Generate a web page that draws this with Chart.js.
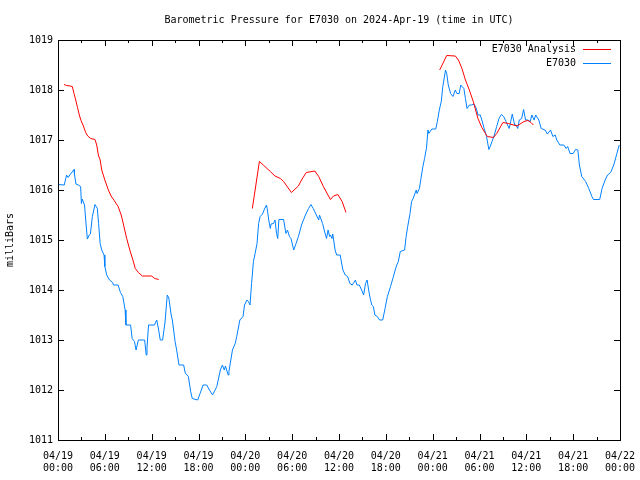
<!DOCTYPE html>
<html>
<head>
<meta charset="utf-8">
<script src="https://cdn.jsdelivr.net/npm/chart.js@4.4.1/dist/chart.umd.min.js"></script>
<style>
  html, body { margin: 0; padding: 0; background: #fff; }
  #wrap { width: 640px; height: 480px; }
</style>
</head>
<body>
<div id="wrap"><canvas id="baro" width="640" height="480"></canvas></div>
<script>
// hours since 2024-04-19 00:00 UTC
var chartTitle = 'Barometric Pressure for E7030 on 2024-Apr-19 (time in UTC)';
var yTitle = 'milliBars';
var xTickLabels = [
    ['04/19', '00:00'], ['04/19', '06:00'], ['04/19', '12:00'], ['04/19', '18:00'],
    ['04/20', '00:00'], ['04/20', '06:00'], ['04/20', '12:00'], ['04/20', '18:00'],
    ['04/21', '00:00'], ['04/21', '06:00'], ['04/21', '12:00'], ['04/21', '18:00'],
    ['04/22', '00:00']
];

var blueHours = [
    0.0, 0.8, 1.1, 1.3, 1.6, 2.05, 2.1, 2.3, 2.6, 2.9, 3.0, 3.1, 3.4, 3.55, 3.76, 4.0, 4.15, 4.4, 4.74, 5.04,
    5.2, 5.4, 5.6, 5.9, 6.0, 6.24, 6.6, 7.0, 7.1, 7.7, 8.0, 8.3, 8.6, 8.7, 9.3, 9.5, 9.8, 10.0, 10.3, 11.1,
    11.3, 11.4, 11.6, 12.35, 12.65, 12.85, 13.1, 13.4, 13.7, 14.0, 14.2, 14.5, 14.65, 15.0, 15.2, 15.5, 16.1, 16.3, 16.7, 17.0,
    17.2, 17.9, 18.2, 18.6, 19.06, 19.4, 19.8, 20.35, 20.8, 21.06, 21.3, 21.45, 21.8, 21.9, 22.35, 22.7, 22.9, 23.3, 23.7, 23.9,
    24.2, 24.4, 24.6, 24.8, 25.04, 25.25, 25.5, 25.7, 25.9, 26.2, 26.4, 26.7, 26.8, 27.0, 27.2, 27.3, 27.6, 27.8, 28.0, 28.15,
    28.3, 28.9, 29.2, 29.4, 29.65, 29.85, 30.2, 30.5, 30.8, 31.2, 31.7, 32.1, 32.4, 32.7, 33.1, 33.4, 33.5, 33.9, 34.1, 34.4,
    34.6, 34.8, 34.9, 35.1, 35.2, 35.5, 35.7, 36.15, 36.5, 36.8, 37.1, 37.4, 37.7, 38.1, 38.3, 38.6, 38.9, 39.15, 39.4, 39.6,
    39.8, 40.0, 40.2, 40.4, 40.6, 40.9, 41.2, 41.6, 41.9, 42.2, 42.6, 42.9, 43.2, 43.4, 43.6, 43.85, 44.4, 44.6, 44.8, 45.1,
    45.3, 45.5, 45.9, 46.0, 46.3, 46.5, 46.75, 46.96, 47.2, 47.4, 47.5, 47.9, 48.4, 48.6, 48.85, 49.1, 49.3, 49.65, 49.8, 50.0,
    50.3, 50.6, 50.9, 51.1, 51.4, 51.6, 52.0, 52.2, 52.4, 52.7, 53.0, 53.3, 53.6, 53.8, 54.1, 54.3, 54.6, 54.9, 55.2, 55.4,
    55.6, 55.9, 56.2, 56.5, 56.8, 57.1, 57.4, 57.6, 57.8, 58.0, 58.2, 58.5, 58.7, 58.9, 59.1, 59.4, 59.65, 59.9, 60.2, 60.5,
    60.7, 61.0, 61.2, 61.6, 61.9, 62.4, 62.7, 63.1, 63.4, 63.7, 63.9, 64.3, 64.8, 65.1, 65.3, 65.6, 66.0, 66.3, 66.6, 66.8,
    67.1, 67.6, 68.0, 68.4, 68.6, 69.4, 69.7, 70.1, 70.4, 70.8, 71.2, 71.6, 71.9
];
var bluePressure = [
    1016.11, 1016.10, 1016.30, 1016.25, 1016.32, 1016.41, 1016.33, 1016.12, 1016.10, 1016.07, 1015.73, 1015.82, 1015.70, 1015.40, 1015.02, 1015.10, 1015.12, 1015.47, 1015.71, 1015.63,
    1015.33, 1014.93, 1014.80, 1014.70, 1014.47, 1014.30, 1014.20, 1014.15, 1014.10, 1014.10, 1013.95, 1013.87, 1013.60, 1013.30, 1013.30, 1013.03, 1012.97, 1012.80, 1013.00, 1013.00,
    1012.70, 1012.84, 1013.30, 1013.30, 1013.40, 1013.24, 1013.00, 1013.00, 1013.34, 1013.90, 1013.84, 1013.50, 1013.40, 1012.97, 1012.80, 1012.50, 1012.50, 1012.34, 1012.27, 1011.97,
    1011.83, 1011.80, 1011.93, 1012.10, 1012.10, 1012.00, 1011.90, 1012.07, 1012.40, 1012.50, 1012.40, 1012.48, 1012.30, 1012.37, 1012.80, 1012.93, 1013.07, 1013.40, 1013.47, 1013.70,
    1013.80, 1013.77, 1013.70, 1014.13, 1014.57, 1014.73, 1014.93, 1015.33, 1015.47, 1015.52, 1015.60, 1015.70, 1015.63, 1015.40, 1015.23, 1015.32, 1015.33, 1015.40, 1015.13, 1015.03,
    1015.41, 1015.41, 1015.13, 1015.20, 1015.07, 1015.03, 1014.80, 1014.93, 1015.07, 1015.30, 1015.50, 1015.63, 1015.71, 1015.63, 1015.50, 1015.40, 1015.50, 1015.33, 1015.20, 1015.03,
    1015.20, 1015.07, 1015.10, 1015.03, 1015.12, 1014.80, 1014.70, 1014.70, 1014.40, 1014.30, 1014.27, 1014.13, 1014.10, 1014.20, 1014.10, 1014.10, 1014.00, 1013.90, 1014.13, 1014.20,
    1014.00, 1013.83, 1013.70, 1013.67, 1013.50, 1013.47, 1013.40, 1013.40, 1013.63, 1013.87, 1014.07, 1014.23, 1014.40, 1014.50, 1014.57, 1014.77, 1014.80, 1015.07, 1015.27, 1015.53,
    1015.77, 1015.83, 1016.00, 1015.93, 1016.03, 1016.23, 1016.47, 1016.63, 1016.83, 1017.20, 1017.13, 1017.22, 1017.22, 1017.37, 1017.60, 1017.77, 1018.07, 1018.40, 1018.33, 1018.10,
    1017.93, 1017.87, 1018.00, 1017.93, 1017.93, 1018.10, 1018.03, 1017.83, 1017.63, 1017.70, 1017.70, 1017.72, 1017.63, 1017.50, 1017.50, 1017.40, 1017.23, 1017.07, 1016.81, 1016.88,
    1016.97, 1017.10, 1017.27, 1017.43, 1017.51, 1017.47, 1017.37, 1017.30, 1017.23, 1017.37, 1017.52, 1017.30, 1017.30, 1017.23, 1017.40, 1017.43, 1017.61, 1017.40, 1017.40, 1017.37,
    1017.50, 1017.40, 1017.50, 1017.40, 1017.23, 1017.20, 1017.12, 1017.20, 1017.07, 1017.10, 1017.00, 1016.90, 1016.90, 1016.83, 1016.87, 1016.73, 1016.73, 1016.81, 1016.80, 1016.50,
    1016.27, 1016.17, 1016.03, 1015.87, 1015.81, 1015.81, 1016.03, 1016.20, 1016.30, 1016.35, 1016.50, 1016.73, 1016.90
];

// analysis series, null = gap between runs
var redHours = [
    0.77, 1.1, 1.54, 1.83, 2.05, 2.27, 2.5, 2.73, 2.95, 3.25, 3.55, 3.8, 4.2, 4.74, 4.96, 5.17, 5.4, 5.6, 6.0, 6.45,
    6.8, 7.2, 7.7, 8.1, 8.4, 8.8, 9.2, 9.6, 9.9, 10.3, 10.8, 12.0, 12.4, 12.9,
    18.0,
    24.9, 25.8, 26.3, 27.2, 27.8, 28.5, 28.9, 29.9, 30.8, 31.2, 31.8, 32.9, 33.4, 34.0, 34.9, 35.3, 35.85, 36.4, 36.9,
    42.0,
    48.9, 49.8, 50.9, 51.3, 51.75, 52.2, 52.7, 53.2, 53.8, 54.3, 55.0, 55.8, 56.2, 57.0, 57.7, 58.8, 59.7, 60.2, 60.6, 60.9
];
var redPressure = [
    1018.11, 1018.09, 1018.08, 1018.07, 1017.93, 1017.80, 1017.65, 1017.50, 1017.39, 1017.28, 1017.15, 1017.08, 1017.03, 1017.01, 1016.90, 1016.70, 1016.60, 1016.40, 1016.20, 1016.00,
    1015.88, 1015.79, 1015.67, 1015.50, 1015.30, 1015.03, 1014.80, 1014.60, 1014.43, 1014.35, 1014.28, 1014.28, 1014.23, 1014.21,
    null,
    1015.63, 1016.57, 1016.50, 1016.37, 1016.28, 1016.23, 1016.17, 1015.95, 1016.08, 1016.20, 1016.35, 1016.38, 1016.27, 1016.07, 1015.81, 1015.88, 1015.91, 1015.77, 1015.55,
    null,
    1018.40, 1018.69, 1018.68, 1018.60, 1018.43, 1018.20, 1018.00, 1017.77, 1017.43, 1017.25, 1017.07, 1017.05, 1017.13, 1017.35, 1017.33, 1017.28, 1017.37, 1017.39, 1017.35, 1017.30
];

var monoFont = "'DejaVu Sans Mono', 'Liberation Mono', monospace";

function toPoints(xs, ys) {
    var pts = [];
    for (var i = 0; i < xs.length; i++) {
        pts.push({x: xs[i], y: ys[i]});
    }
    return pts;
}

// gnuplot style frame: box, inward ticks, title, legend on the right
var framePlugin = {
    id: 'frame',
    afterDraw: function(chart) {
        var ctx = chart.ctx;
        var a = chart.chartArea;
        var xs = chart.scales.x;
        var ys = chart.scales.y;
        ctx.save();
        ctx.strokeStyle = '#000';
        ctx.lineWidth = 1;
        ctx.strokeRect(Math.round(a.left) + 0.5, Math.round(a.top) + 0.5,
                       Math.round(a.right - a.left), Math.round(a.bottom - a.top));
        ctx.beginPath();
        for (var h = 0; h <= 72; h += 3) {
            var px = Math.round(xs.getPixelForValue(h)) + 0.5;
            var len = (h % 6 === 0) ? 6 : 3;
            ctx.moveTo(px, a.bottom); ctx.lineTo(px, a.bottom - len);
            ctx.moveTo(px, a.top); ctx.lineTo(px, a.top + len);
        }
        for (var v = 1011; v <= 1019; v++) {
            var py = Math.round(ys.getPixelForValue(v)) + 0.5;
            ctx.moveTo(a.left, py); ctx.lineTo(a.left + 6, py);
            ctx.moveTo(a.right, py); ctx.lineTo(a.right - 6, py);
        }
        ctx.stroke();

        ctx.fillStyle = '#000';
        ctx.font = '10px ' + monoFont;
        ctx.textAlign = 'center';
        ctx.textBaseline = 'middle';
        ctx.fillText(chartTitle, (a.left + a.right) / 2, 20);

        ctx.textAlign = 'right';
        var ds = chart.data.datasets;
        for (var i = 0; i < ds.length; i++) {
            var ly = 49 + i * 14;
            ctx.fillStyle = '#000';
            ctx.fillText(ds[i].label, a.right - 44, ly);
            ctx.strokeStyle = ds[i].borderColor;
            ctx.beginPath();
            ctx.moveTo(a.right - 37, ly + 0.5);
            ctx.lineTo(a.right - 9, ly + 0.5);
            ctx.stroke();
        }
        ctx.restore();
    }
};

var ctx = document.getElementById('baro').getContext('2d');
var baroChart = new Chart(ctx, {
    type: 'line',
    data: {
        datasets: [{
            label: 'E7030 Analysis',
            data: toPoints(redHours, redPressure),
            borderColor: '#ff0000',
            borderWidth: 1,
            pointRadius: 0,
            tension: 0,
            spanGaps: false
        }, {
            label: 'E7030',
            data: toPoints(blueHours, bluePressure),
            borderColor: '#0080ff',
            borderWidth: 1,
            pointRadius: 0,
            tension: 0
        }]
    },
    options: {
        responsive: false,
        animation: false,
        events: [],
        layout: { padding: { top: 40, right: 20, bottom: 0, left: 0 } },
        plugins: {
            legend: { display: false },
            title: { display: false },
            tooltip: { enabled: false }
        },
        scales: {
            x: {
                type: 'linear',
                min: 0,
                max: 72,
                afterFit: function(s) {
                    s.height = 40;
                    s.paddingLeft = 0;
                    s.paddingRight = 0;
                },
                afterBuildTicks: function(s) {
                    s.ticks = xTickLabels.map(function(l, i) { return {value: i * 6}; });
                },
                grid: { display: false, drawTicks: false },
                border: { display: false },
                ticks: {
                    autoSkip: false,
                    maxRotation: 0,
                    padding: 10,
                    color: '#000',
                    font: { family: monoFont, size: 10, lineHeight: 1.2 },
                    callback: function(value) { return xTickLabels[Math.round(value / 6)]; }
                }
            },
            y: {
                min: 1011,
                max: 1019,
                afterFit: function(s) { s.width = 58; },
                grid: { display: false, drawTicks: false },
                border: { display: false },
                title: {
                    display: true,
                    text: yTitle,
                    color: '#000',
                    padding: { top: 4, bottom: 0 },
                    font: { family: monoFont, size: 10 }
                },
                ticks: {
                    stepSize: 1,
                    padding: 5,
                    color: '#000',
                    font: { family: monoFont, size: 10 },
                    callback: function(value) { return value; }
                }
            }
        }
    },
    plugins: [framePlugin]
});
</script>
</body>
</html>
